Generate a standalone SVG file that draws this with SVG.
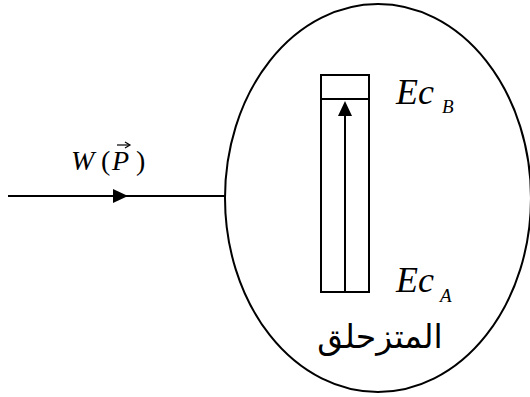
<svg xmlns="http://www.w3.org/2000/svg" width="530" height="397" viewBox="0 0 530 397">
<style>
.s{fill:none;stroke:#000;stroke-width:2}
.t{font-family:"Liberation Serif","Times New Roman",serif;font-style:italic;fill:#000}
.n{font-family:"Liberation Serif","Times New Roman",serif;font-style:normal;fill:#000}
.ar{font-family:"DejaVu Sans",sans-serif;fill:#000}
</style>
<rect width="530" height="397" fill="#fff"/>
<g id="skier">
<ellipse class="s" cx="378" cy="198" rx="153" ry="194"/>
<text class="ar" x="380" y="348" font-size="33" text-anchor="middle" direction="rtl">المتزحلق</text>
</g>
<g id="bar">
<rect class="s" x="321" y="75" width="48" height="217"/>
<line class="s" x1="321" y1="99" x2="369" y2="99"/>
</g>
<g id="labels">
<text class="t" x="396" y="104" font-size="36">Ec</text>
<text class="t" x="442" y="113" font-size="19">B</text>
<text class="t" x="396" y="292" font-size="36">Ec</text>
<text class="t" x="440" y="302" font-size="19">A</text>
<text class="t" x="71" y="170" font-size="28">W</text>
<text class="n" x="101" y="170" font-size="28">(</text>
<text class="t" x="112" y="170" font-size="28">P</text>
<text class="n" x="136" y="170" font-size="28">)</text>
<line x1="117" y1="145" x2="129" y2="145" stroke="#000" stroke-width="1.2"/>
<path d="M125,142 L130,145 L125,148" fill="none" stroke="#000" stroke-width="1.2"/>
</g>
<g id="connectors">
<line class="s" x1="8" y1="196" x2="225" y2="196"/>
<path d="M113,189 L128,196 L113,203 Z" fill="#000"/>
<line class="s" x1="345" y1="292" x2="345" y2="112"/>
<path d="M338,116 L345,101 L352,116 Z" fill="#000"/>
</g>
</svg>
